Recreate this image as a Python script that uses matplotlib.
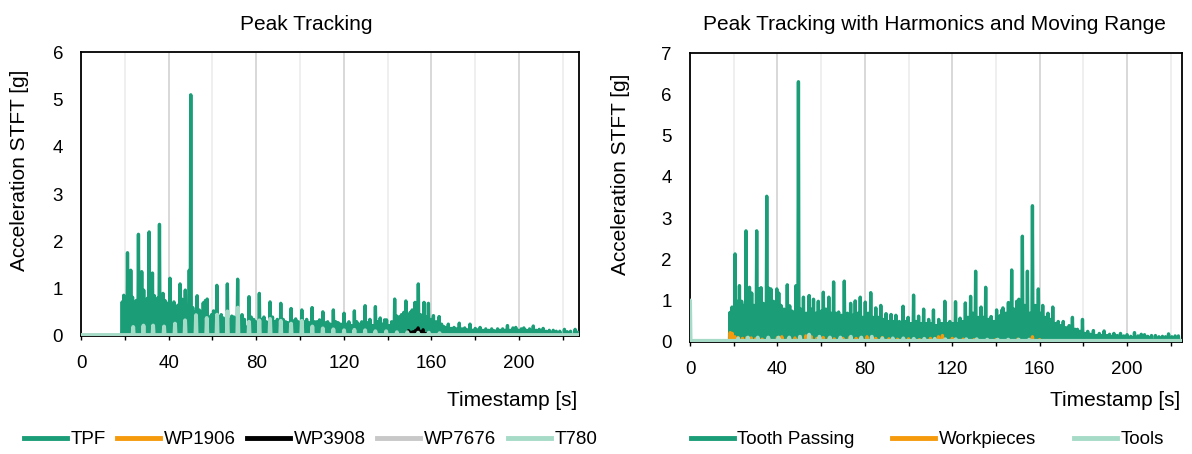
import matplotlib.pyplot as plt
from matplotlib.lines import Line2D
from matplotlib.ticker import MultipleLocator

plt.rcParams['font.family'] = ['Liberation Sans', 'DejaVu Sans']

green = "#1b9e77"
orange = "#f59a0c"
black = "#000000"
grey = "#c8c8c8"
teal = "#a6dbc8"

# ---------------- left panel: Peak Tracking ----------------
left_xmax = 227.4

tpf_t = [
    0.0, 18.8, 19.5, 20.3, 21.2, 22.0, 22.7, 23.5, 24.4, 25.2,
    26.2, 27.0, 27.7, 28.6, 29.5, 30.3, 31.1, 31.9, 32.6, 33.5,
    34.4, 35.0, 35.8, 36.6, 37.4, 38.3, 39.2, 39.9, 40.6, 41.5,
    42.4, 43.2, 44.2, 45.2, 46.0, 46.8, 47.6, 48.5, 49.4, 50.1,
    51.0, 51.8, 53.0, 54.0, 54.9, 55.8, 56.8, 57.6, 58.6, 59.6,
    60.5, 62.0, 63.0, 64.0, 65.0, 66.8, 67.8, 68.8, 69.8, 71.5,
    72.5, 73.5, 74.6, 76.7, 77.7, 78.8, 79.8, 81.4, 82.5, 83.5,
    84.6, 86.3, 87.4, 88.5, 89.6, 91.2, 92.3, 93.4, 94.5, 95.9,
    97.0, 98.0, 99.2, 100.8, 101.9, 103.0, 104.2, 105.5, 106.6, 107.7,
    108.9, 110.4, 111.5, 112.6, 113.8, 115.2, 116.3, 117.4, 118.6, 120.1,
    121.2, 122.3, 123.4, 124.8, 125.9, 127.0, 128.2, 129.7, 130.8, 131.9,
    133.0, 134.4, 135.5, 136.6, 137.8, 138.6, 139.5, 140.6, 141.8, 143.2,
    144.2, 145.3, 146.3, 147.4, 148.3, 149.3, 150.3, 151.2, 152.5, 153.3,
    154.0, 155.0, 156.6, 157.6, 158.6, 159.8, 160.9, 162.2, 163.5, 164.6,
    165.6, 166.6, 167.7, 169.0, 170.3, 171.5, 172.7, 174.0, 175.2, 176.4,
    177.6, 178.8, 180.0, 181.1, 182.2, 183.5, 184.8, 186.2, 187.5, 188.8,
    190.2, 191.3, 192.5, 193.6, 194.7, 195.9, 197.2, 198.5, 199.8, 201.0,
    202.2, 203.5, 204.8, 206.5, 207.8, 209.2, 211.0, 212.3, 213.8, 215.6,
    217.0, 218.6, 220.7, 222.0, 223.5, 225.6, 226.8]
tpf_v = [
    0.0, 0.72, 0.86, 0.75, 1.76, 0.9, 1.39, 0.82, 0.7, 0.75,
    2.15, 0.9, 1.36, 0.97, 0.7, 0.8, 2.2, 0.95, 1.33, 0.85,
    0.75, 0.8, 2.36, 0.85, 0.9, 0.75, 0.6, 0.7, 1.22, 0.6,
    0.72, 0.55, 0.65, 1.1, 0.78, 0.6, 0.97, 0.5, 1.39, 5.1,
    0.6, 0.5, 0.85, 0.55, 0.5, 0.7, 0.75, 0.78, 0.4, 0.45,
    0.53, 1.07, 0.4, 0.45, 0.38, 1.1, 0.35, 0.42, 0.4, 1.2,
    0.4, 0.45, 0.35, 0.83, 0.4, 0.35, 0.3, 0.9, 0.35, 0.4,
    0.3, 0.72, 0.4, 0.3, 0.35, 0.69, 0.35, 0.3, 0.28, 0.58,
    0.32, 0.36, 0.3, 0.55, 0.3, 0.35, 0.28, 0.6, 0.3, 0.3,
    0.34, 0.51, 0.28, 0.3, 0.25, 0.55, 0.3, 0.28, 0.25, 0.48,
    0.25, 0.3, 0.22, 0.53, 0.3, 0.25, 0.3, 0.64, 0.28, 0.35,
    0.22, 0.62, 0.3, 0.38, 0.25, 0.34, 0.34, 0.22, 0.3, 0.78,
    0.42, 0.4, 0.45, 0.5, 0.74, 0.45, 0.5, 0.55, 0.71, 0.5,
    1.1, 0.45, 0.71, 0.4, 0.69, 0.35, 0.43, 0.3, 0.41, 0.25,
    0.2, 0.18, 0.25, 0.16, 0.18, 0.15, 0.27, 0.15, 0.17, 0.13,
    0.25, 0.12, 0.16, 0.13, 0.18, 0.12, 0.15, 0.12, 0.15, 0.11,
    0.15, 0.12, 0.15, 0.12, 0.22, 0.12, 0.17, 0.18, 0.12, 0.15,
    0.17, 0.12, 0.15, 0.21, 0.12, 0.14, 0.16, 0.1, 0.12, 0.12,
    0.1, 0.1, 0.14, 0.09, 0.1, 0.14, 0.08]

# dense lower band of the TPF signal
tpf_base_t = [18.8, 18.9, 25, 30, 35, 40, 45, 50, 55, 60, 70, 80, 90, 100,
              110, 120, 130, 140, 143, 150, 158, 162, 166, 175, 190, 210, 227.4]
tpf_base_v = [0, 0.55, 0.6, 0.6, 0.55, 0.5, 0.45, 0.45, 0.4, 0.3, 0.25, 0.22,
              0.2, 0.18, 0.17, 0.15, 0.15, 0.15, 0.25, 0.35, 0.35, 0.2, 0.1,
              0.07, 0.06, 0.05, 0.05]

wp1906_t = [0.0, 227.4]
wp1906_v = [0.0, 0.0]

wp3908_t = [148.5, 149.5, 150.6, 151.7, 152.8, 153.9, 155.0, 156.2, 157.3]
wp3908_v = [0.05, 0.11, 0.08, 0.09, 0.12, 0.17, 0.1, 0.13, 0.05]

wp7676_t = [0.0, 227.4]
wp7676_v = [0.0, 0.0]

t780_t = [23.8, 28.5, 32.9, 37.9, 42.9, 47.5, 52.5, 57.4, 62.1, 66.8,
          71.6, 76.7, 81.4, 86.3, 91.2, 95.9, 100.8, 105.6, 110.4, 115.2,
          120.1, 124.8, 129.7, 134.4, 139.3, 144.2, 149.0, 153.9, 158.8, 163.7]
t780_v = [0.19, 0.22, 0.22, 0.2, 0.26, 0.33, 0.44, 0.38, 0.45, 0.52,
          0.6, 0.3, 0.33, 0.36, 0.32, 0.26, 0.32, 0.2, 0.16, 0.14,
          0.12, 0.13, 0.12, 0.1, 0.1, 0.08, 0.08, 0.07, 0.07, 0.06]
t780_floor = 0.02

# ---------------- right panel: harmonics + moving range ----------------
right_xmax = 225.2

tp_t = [
    0.0, 18.3, 19.2, 20.6, 21.6, 22.6, 23.6, 24.6, 25.6, 26.4,
    27.2, 28.2, 29.3, 30.5, 31.5, 32.5, 33.5, 35.1, 36.0, 37.0,
    38.2, 39.7, 40.6, 41.6, 43.0, 44.5, 45.6, 46.8, 48.5, 49.6,
    50.6, 51.9, 53.2, 54.5, 55.5, 56.5, 57.6, 58.7, 60.0, 61.0,
    62.2, 63.5, 64.5, 65.7, 66.8, 68.0, 69.3, 70.6, 72.0, 73.5,
    74.5, 75.6, 76.8, 77.9, 79.0, 80.2, 81.5, 82.7, 83.8, 85.0,
    86.2, 87.3, 88.5, 89.7, 90.8, 92.0, 93.1, 94.2, 95.8, 97.5,
    98.6, 99.8, 101.0, 102.3, 103.4, 104.6, 105.7, 106.9, 108.0, 109.2,
    110.3, 111.4, 112.6, 113.8, 115.2, 116.6, 117.7, 118.9, 120.2, 121.5,
    122.5, 123.6, 124.8, 126.0, 127.2, 128.4, 129.5, 130.7, 132.0, 133.2,
    134.2, 135.3, 136.5, 137.8, 139.0, 140.3, 141.9, 142.6, 143.2, 144.5,
    145.7, 147.2, 148.3, 149.5, 150.5, 151.3, 152.1, 153.2, 154.4, 155.6,
    156.7, 158.0, 159.4, 160.4, 161.4, 162.6, 163.8, 165.0, 166.0, 167.2,
    168.5, 169.7, 170.8, 172.0, 173.5, 175.0, 176.2, 177.3, 178.5, 179.6,
    180.8, 182.0, 183.3, 184.6, 186.0, 187.3, 188.4, 189.5, 190.8, 192.0,
    193.0, 194.0, 195.5, 197.0, 198.5, 200.0, 201.7, 203.4, 205.0, 206.5,
    208.0, 209.5, 211.2, 213.0, 214.6, 216.2, 217.6, 219.0, 220.5, 222.0,
    223.5]
tp_v = [
    0.0, 0.71, 0.84, 2.13, 0.98, 1.36, 0.98, 0.88, 2.69, 1.08,
    1.32, 1.18, 0.88, 2.69, 1.28, 1.31, 0.93, 3.53, 1.3, 1.28,
    0.98, 1.28, 1.18, 0.88, 0.79, 1.38, 0.87, 0.74, 1.36, 6.31,
    0.79, 1.08, 0.69, 1.12, 0.79, 1.03, 0.69, 0.98, 0.74, 1.2,
    0.79, 1.08, 0.69, 1.45, 0.69, 0.72, 0.64, 1.47, 0.69, 0.93,
    0.64, 0.99, 0.69, 1.08, 0.59, 0.96, 0.69, 1.19, 0.59, 0.82,
    0.59, 0.88, 0.54, 0.68, 0.49, 0.66, 0.49, 0.64, 0.49, 0.86,
    0.49, 0.59, 0.44, 1.13, 0.49, 0.62, 0.44, 0.79, 0.44, 0.54,
    0.44, 0.77, 0.39, 0.54, 0.44, 0.98, 0.44, 0.49, 0.44, 0.97,
    0.44, 0.57, 0.49, 0.94, 0.59, 1.1, 0.69, 1.71, 0.59, 0.84,
    0.59, 1.32, 0.54, 0.61, 0.49, 0.77, 0.63, 0.76, 0.82, 0.69,
    0.95, 1.74, 0.79, 0.98, 1.03, 0.79, 2.56, 0.88, 1.71, 0.69,
    3.3, 0.88, 1.28, 0.69, 0.88, 0.59, 0.69, 0.54, 0.84, 0.44,
    0.49, 0.39, 0.49, 0.34, 0.39, 0.59, 0.3, 0.3, 0.25, 0.54,
    0.2, 0.25, 0.18, 0.27, 0.15, 0.2, 0.15, 0.26, 0.15, 0.18,
    0.12, 0.2, 0.15, 0.2, 0.14, 0.17, 0.13, 0.22, 0.14, 0.18,
    0.17, 0.13, 0.15, 0.15, 0.12, 0.13, 0.12, 0.19, 0.12, 0.14,
    0.14]

tp_base_t = [18.3, 18.4, 25, 35, 45, 55, 65, 75, 85, 95, 105, 115, 125, 135,
             145, 155, 160, 165, 170, 178, 185, 200, 225.2]
tp_base_v = [0, 0.6, 0.65, 0.6, 0.55, 0.5, 0.45, 0.42, 0.38, 0.33, 0.3, 0.3,
             0.35, 0.4, 0.5, 0.5, 0.4, 0.3, 0.22, 0.12, 0.08, 0.06, 0.05]

wp_t = [18.4, 19.3, 20.5, 22.0, 24.0, 26.0, 28.0, 30.0, 33.0, 36.0,
        40.0, 42.0, 45.0, 48.0, 50.5, 53.0, 55.5, 58.0, 61.0, 63.5,
        66.0, 70.0, 73.0, 76.0, 78.0, 81.0, 85.0, 88.0, 91.0, 95.0,
        100.0, 105.0, 110.0, 113.7, 115.5, 120.0, 125.0, 130.0, 140.0, 150.0,
        156.7, 160.0]
wp_v = [0.22, 0.2, 0.12, 0.1, 0.08, 0.1, 0.09, 0.07, 0.06, 0.07,
        0.1, 0.12, 0.08, 0.09, 0.12, 0.14, 0.12, 0.08, 0.1, 0.08,
        0.07, 0.08, 0.1, 0.08, 0.09, 0.12, 0.08, 0.1, 0.07, 0.06,
        0.07, 0.05, 0.08, 0.12, 0.15, 0.08, 0.06, 0.05, 0.05, 0.06,
        0.12, 0.05]

tools_t = [0.0, 22.0, 26.5, 31.0, 35.8, 40.5, 45.4, 50.3, 54.5, 59.2,
           64.0, 68.8, 73.6, 78.4, 83.2, 88.0, 92.8, 97.6, 102.4, 107.2,
           112.0, 116.8, 121.6, 126.4, 131.2, 136.0, 140.8, 145.6, 150.4, 155.2]
tools_v = [1.0, 0.08, 0.1, 0.1, 0.1, 0.1, 0.1, 0.12, 0.17, 0.12,
           0.1, 0.1, 0.12, 0.1, 0.12, 0.08, 0.08, 0.08, 0.07, 0.07,
           0.07, 0.06, 0.06, 0.06, 0.06, 0.05, 0.05, 0.05, 0.05, 0.05]
tools_floor = 0.02


def spikes(t, v, xmax, floor=0.0, half=0.25):
    # each listed value is drawn as a narrow spike on top of the floor level
    x, y = [0.0], [floor]
    for ti, vi in zip(t, v):
        x += [ti - half, ti, ti + half]
        y += [floor, vi, floor]
    x.append(xmax)
    y.append(floor)
    return x, y


def style_axes(ax, xmax, ymax):
    ax.set_xlim(0, xmax)
    ax.set_ylim(0, ymax)
    ax.xaxis.set_major_locator(MultipleLocator(40))
    ax.xaxis.set_minor_locator(MultipleLocator(20))
    ax.yaxis.set_major_locator(MultipleLocator(1))
    ax.set_axisbelow(True)
    ax.grid(which="major", axis="x", color="#d6d6d6", linewidth=1.3, zorder=0)
    ax.grid(which="minor", axis="x", color="#eeeeee", linewidth=1.3, zorder=0)
    ax.tick_params(axis="x", which="both", direction="out", length=3,
                   width=1, pad=11, labelsize=13.5)
    ax.tick_params(axis="y", length=0, pad=13, labelsize=13.5)
    for s in ax.spines.values():
        s.set_linewidth(1.3)
        s.set_color("black")


fig = plt.figure(figsize=(11.92, 4.54), dpi=100)
fig.set_facecolor("white")

ax1 = fig.add_axes([0.068, 0.26, 0.4178, 0.6249])
ax2 = fig.add_axes([0.5789, 0.2474, 0.4128, 0.6352])

lw = 2.4

# left panel
ax1.fill_between(tpf_base_t, tpf_base_v, color=green, lw=0, zorder=2)
x, y = spikes(tpf_t, tpf_v, left_xmax)
ax1.plot(x, y, color=green, lw=lw, zorder=3)
ax1.plot(wp1906_t, wp1906_v, color=orange, lw=lw, zorder=4)
x, y = spikes(wp3908_t, wp3908_v, left_xmax)
ax1.plot(x, y, color=black, lw=lw, zorder=5)
ax1.plot(wp7676_t, wp7676_v, color=grey, lw=lw, zorder=6)
x, y = spikes(t780_t, t780_v, left_xmax, floor=t780_floor)
ax1.plot(x, y, color=teal, lw=lw + 0.4, zorder=7)
style_axes(ax1, left_xmax, 6)

# right panel
ax2.fill_between(tp_base_t, tp_base_v, color=green, lw=0, zorder=2)
x, y = spikes(tp_t, tp_v, right_xmax)
ax2.plot(x, y, color=green, lw=lw, zorder=3)
x, y = spikes(wp_t, wp_v, right_xmax)
ax2.plot(x, y, color=orange, lw=lw, zorder=4)
x, y = spikes(tools_t, tools_v, right_xmax, floor=tools_floor)
ax2.plot(x, y, color=teal, lw=lw + 0.4, zorder=5)
style_axes(ax2, right_xmax, 7)

# titles and axis labels
fig.text(306 / 1192, 1 - 24 / 454, "Peak Tracking", ha="center", va="center", fontsize=15)
fig.text(934 / 1192, 1 - 24 / 454, "Peak Tracking with Harmonics and Moving Range",
         ha="center", va="center", fontsize=15)
fig.text(20 / 1192, 1 - 170 / 454, "Acceleration STFT [g]", rotation=90,
         ha="center", va="center", fontsize=15)
fig.text(621 / 1192, 1 - 174 / 454, "Acceleration STFT [g]", rotation=90,
         ha="center", va="center", fontsize=15)
fig.text(577 / 1192, 1 - 400 / 454, "Timestamp [s]", ha="right", va="center", fontsize=15)
fig.text(1180 / 1192, 1 - 400 / 454, "Timestamp [s]", ha="right", va="center", fontsize=15)

# legends
left_names = ["TPF", "WP1906", "WP3908", "WP7676", "T780"]
left_cols = [green, orange, black, grey, teal]
h1 = [Line2D([], [], color=c, lw=3.5) for c in left_cols]
fig.legend(h1, left_names, loc="center", bbox_to_anchor=(0.2605, 0.031), ncol=5,
           frameon=False, fontsize=13.5, handlelength=2.3, handletextpad=0.2,
           columnspacing=0.6, borderaxespad=0, borderpad=0)

right_names = ["Tooth Passing", "Workpieces", "Tools"]
right_cols = [green, orange, teal]
h2 = [Line2D([], [], color=c, lw=3.5) for c in right_cols]
fig.legend(h2, right_names, loc="center", bbox_to_anchor=(0.778, 0.031), ncol=3,
           frameon=False, fontsize=13.5, handlelength=2.3, handletextpad=0.2,
           columnspacing=2.0, borderaxespad=0, borderpad=0)

plt.savefig("out.png", dpi=100)
